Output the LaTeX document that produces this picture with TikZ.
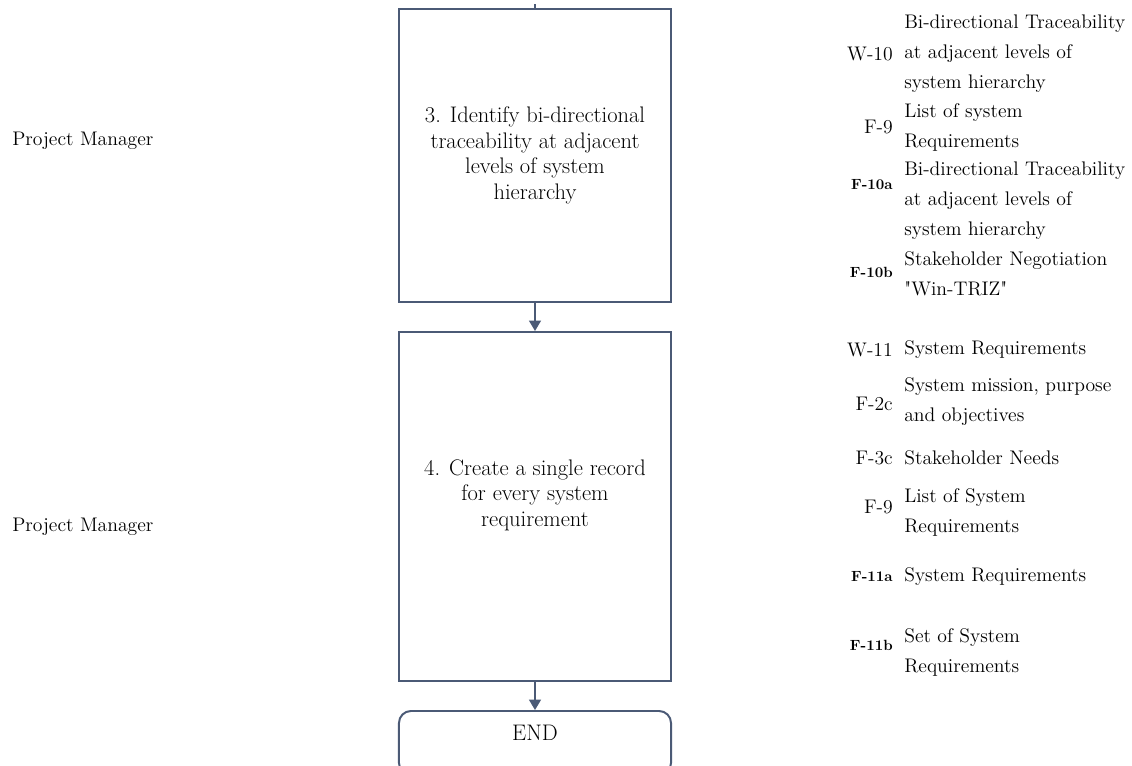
\documentclass[tikz,border=0pt]{standalone}
\usepackage{fontspec}
\usetikzlibrary{arrows.meta}
\definecolor{boxline}{HTML}{4B5A76}

\begin{document}
\begin{tikzpicture}[
  x=0.025cm, y=-0.025cm,
  font=\fontsize{14}{18}\selectfont,
  stepbox/.style={draw=boxline, line width=1.4pt, minimum width=6.8cm,
                  align=center, inner sep=0pt,
                  font=\fontsize{16}{18.1}\selectfont},
  endbox/.style={stepbox, rounded corners=0.3cm, minimum height=1.6cm,
                 anchor=north, text depth=0.5cm},
  arr/.style={-{Triangle[length=0.26cm,width=0.3cm]}, draw=boxline,
              fill=boxline, line width=0.9pt},
  role/.style={anchor=west, inner sep=0pt},
  code/.style={anchor=east, inner sep=0pt},
  smallcode/.style={code, font=\fontsize{10.5}{12}\selectfont\bfseries},
  item/.style={anchor=west, inner sep=0pt, align=left,
               font=\fontsize{14}{21.3}\selectfont},
]
  \clip (0,0) rectangle (1132,765);

  \def\xbox{535}    % flow column
  \def\xcode{893}   % right edge of codes
  \def\xtext{904}   % left edge of item texts

  % --- Flow boxes ---
  \node[stepbox, minimum height=7.325cm] (step3) at (\xbox,155.5)
    {3. Identify bi-directional\\traceability at adjacent\\levels of system\\hierarchy};
  \node[stepbox, minimum height=8.725cm, text depth=0.67cm] (step4) at (\xbox,506.5)
    {4. Create a single record\\for every system\\requirement};
  \node[endbox] (end) at (\xbox,710) {END};

  % --- Connectors ---
  \coordinate (from above) at (\xbox,4);
  \draw[boxline, line width=1.4pt] (from above) -- (step3.north);
  \draw[arr] (step3) -- (step4);
  \draw[arr] (step4) -- (end);

  % --- Roles ---
  \node[role] (role3) at (12,141) {Project Manager};
  \node[role] (role4) at (12,527) {Project Manager};

  % --- Inputs / outputs of step 3 ---
  \node[code] (w10) at (\xcode,54) {W-10};
  \node[item] (w10t) at (\xtext,54)
    {Bi-directional Traceability\\at adjacent levels of\\system hierarchy};
  \node[code] (f9a) at (\xcode,127) {F-9};
  \node[item] (f9at) at (\xtext,127) {List of system\\Requirements};
  \node[smallcode] (f10a) at (\xcode,185) {F-10a};
  \node[item] (f10at) at (\xtext,201)
    {Bi-directional Traceability\\at adjacent levels of\\system hierarchy};
  \node[smallcode] (f10b) at (\xcode,272) {F-10b};
  \node[item] (f10bt) at (\xtext,274)
    {Stakeholder Negotiation\\\textquotedbl Win-TRIZ\textquotedbl};

  % --- Inputs / outputs of step 4 ---
  \node[code] (w11) at (\xcode,350) {W-11};
  \node[item] (w11t) at (\xtext,350) {System Requirements};
  \node[code] (f2c) at (\xcode,404) {F-2c};
  \node[item] (f2ct) at (\xtext,402) {System mission, purpose\\and objectives};
  \node[code] (f3c) at (\xcode,458) {F-3c};
  \node[item] (f3ct) at (\xtext,458) {Stakeholder Needs};
  \node[code] (f9b) at (\xcode,507) {F-9};
  \node[item] (f9bt) at (\xtext,512) {List of System\\Requirements};
  \node[smallcode] (f11a) at (\xcode,577) {F-11a};
  \node[item] (f11at) at (\xtext,577) {System Requirements};
  \node[smallcode] (f11b) at (\xcode,645) {F-11b};
  \node[item] (f11bt) at (\xtext,652) {Set of System\\Requirements};

\end{tikzpicture}
\end{document}
